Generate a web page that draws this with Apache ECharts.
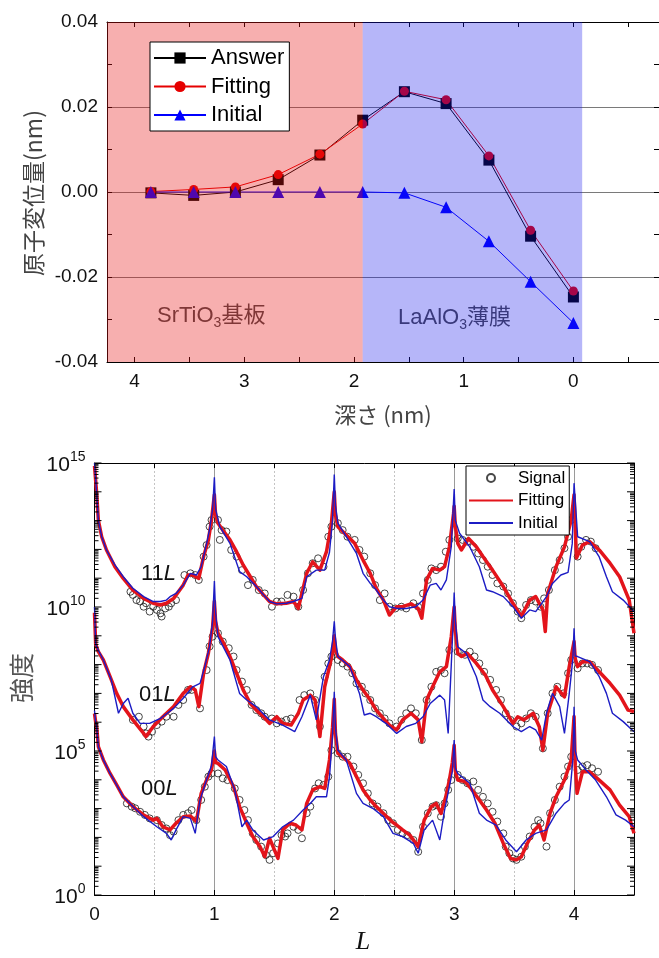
<!DOCTYPE html>
<html><head><meta charset="utf-8">
<script src="https://cdn.jsdelivr.net/npm/echarts@6/dist/echarts.min.js"></script>
<style>html,body{margin:0;padding:0;background:#fff}#c{width:659px;height:958px}</style>
</head><body><div id="c"></div>
<script>
// ---------- Top chart data (depth in nm, displacement in nm) ----------
const depth   = [3.85, 3.46, 3.08, 2.69, 2.31, 1.92, 1.54, 1.16, 0.77, 0.39, 0.0];
const answer  = [-0.0002, -0.0008, 0.0000, 0.0029, 0.0087, 0.0169, 0.0236, 0.0208, 0.0075, -0.0104, -0.0247];
const fitting = [0.0001, 0.0006, 0.0012, 0.0041, 0.0089, 0.0160, 0.0237, 0.0217, 0.0085, -0.0090, -0.0233];
const initial = [0.0000, 0.0000, 0.0000, 0.0000, 0.0000, 0.0000, -0.0002, -0.0036, -0.0116, -0.0211, -0.0308];
const depthMin = -0.78, depthMax = 4.25;
const substrateEdge = 1.92, filmEdge = -0.08;

// ---------- Bottom chart data: [L, log10(intensity)] ----------
const sig11 = [[0.30,10.53],[0.32,10.42],[0.35,10.24],[0.38,10.19],[0.41,10.01],[0.43,10.13],[0.46,9.84],[0.49,10.01],[0.52,9.90],[0.55,9.78],[0.56,9.67],[0.59,9.95],[0.62,10.01],[0.64,10.13],[0.68,10.24],[0.75,11.11],[0.80,11.17],[0.84,11.11],[0.87,10.94],[0.91,11.75],[0.935,12.15],[0.96,12.79],[0.976,13.02],[1.03,13.02],[1.045,12.33],[1.06,12.67],[1.10,12.62],[1.14,11.98],[1.185,11.75],[1.23,11.28],[1.28,10.76],[1.32,10.94],[1.37,10.59],[1.42,10.47],[1.48,10.01],[1.52,10.19],[1.56,10.19],[1.61,10.42],[1.66,10.36],[1.70,10.01],[1.74,10.59],[1.78,11.17],[1.82,11.52],[1.865,11.69],[1.91,11.40],[1.95,12.44],[1.976,12.79],[2.03,12.91],[2.07,12.67],[2.11,12.44],[2.17,12.33],[2.21,11.98],[2.25,11.75],[2.30,11.17],[2.34,10.76],[2.38,10.24],[2.42,10.47],[2.46,10.01],[2.51,9.95],[2.56,10.01],[2.60,9.95],[2.66,10.13],[2.70,10.01],[2.74,10.47],[2.78,10.94],[2.81,11.34],[2.85,11.28],[2.89,11.40],[2.93,11.92],[2.96,12.33],[3.03,12.38],[3.07,12.33],[3.11,12.27],[3.16,12.09],[3.20,11.86],[3.24,11.63],[3.28,11.40],[3.32,11.11],[3.36,10.82],[3.41,10.71],[3.45,10.47],[3.49,10.13],[3.53,9.84],[3.56,9.61],[3.60,10.07],[3.64,10.24],[3.68,10.19],[3.72,10.01],[3.75,10.30],[3.79,10.59],[3.84,11.28],[3.88,11.63],[3.92,12.04],[3.95,12.44],[3.976,13.02],[4.03,11.75],[4.06,12.09],[4.10,12.33],[4.14,12.27],[4.18,12.04]];
const fit11 = [[0.0,14.9],[0.018,13.95],[0.032,13.02],[0.06,12.44],[0.10,11.98],[0.17,11.40],[0.24,10.99],[0.32,10.59],[0.41,10.30],[0.49,10.13],[0.55,10.07],[0.60,10.13],[0.66,10.30],[0.74,10.76],[0.78,11.11],[0.82,11.11],[0.87,10.99],[0.91,11.75],[0.95,12.33],[0.976,13.02],[1.0,13.9],[1.01,13.2],[1.03,12.91],[1.07,12.67],[1.13,12.33],[1.185,11.92],[1.24,11.46],[1.30,11.05],[1.35,10.71],[1.41,10.42],[1.46,10.19],[1.52,10.11],[1.60,10.13],[1.66,10.19],[1.70,9.95],[1.77,11.17],[1.82,11.57],[1.88,11.28],[1.935,11.92],[1.976,12.91],[2.0,14.0],[2.01,13.2],[2.03,12.79],[2.10,12.50],[2.17,12.21],[2.24,11.63],[2.30,11.17],[2.35,10.65],[2.41,10.24],[2.46,9.72],[2.52,10.01],[2.57,10.01],[2.64,10.11],[2.70,9.95],[2.73,9.61],[2.77,10.94],[2.82,11.34],[2.88,11.28],[2.92,11.40],[2.96,12.09],[2.995,13.25],[3.0,13.5],[3.01,12.8],[3.03,12.21],[3.06,11.98],[3.12,12.38],[3.185,12.09],[3.24,11.75],[3.32,11.28],[3.41,10.71],[3.49,10.13],[3.56,9.67],[3.63,10.24],[3.68,10.36],[3.74,9.90],[3.76,9.15],[3.78,10.47],[3.85,11.40],[3.92,12.09],[3.976,13.02],[4.0,13.9],[4.02,11.7],[4.07,12.15],[4.13,12.27],[4.21,11.98],[4.30,11.52],[4.38,11.05],[4.46,10.24],[4.5,9.09]];
const ini11 = [[0.0,15.0],[0.018,13.95],[0.032,13.02],[0.06,12.44],[0.10,11.98],[0.17,11.46],[0.24,11.05],[0.32,10.65],[0.41,10.36],[0.49,10.19],[0.55,10.19],[0.60,10.24],[0.63,10.36],[0.68,10.47],[0.74,10.76],[0.80,11.17],[0.85,11.11],[0.89,11.40],[0.935,12.20],[0.96,12.70],[0.985,13.40],[1.0,14.5],[1.01,13.4],[1.045,12.79],[1.13,12.21],[1.21,11.23],[1.27,11.05],[1.35,10.71],[1.41,10.42],[1.46,10.19],[1.52,10.11],[1.60,10.13],[1.66,10.19],[1.73,10.30],[1.77,11.05],[1.85,11.28],[1.92,11.28],[1.96,11.90],[1.985,13.0],[2.0,14.6],[2.01,13.5],[2.03,12.91],[2.10,12.44],[2.185,11.86],[2.24,11.17],[2.30,10.82],[2.35,10.59],[2.41,10.24],[2.46,10.01],[2.52,9.95],[2.60,9.95],[2.68,10.01],[2.74,10.24],[2.80,10.76],[2.85,10.82],[2.89,10.59],[2.935,10.94],[2.976,12.1],[3.0,14.1],[3.01,13.0],[3.045,12.56],[3.13,12.09],[3.21,11.40],[3.27,10.59],[3.32,10.53],[3.41,10.36],[3.49,10.01],[3.56,9.61],[3.63,9.90],[3.68,9.84],[3.77,10.36],[3.82,10.82],[3.89,11.11],[3.95,11.20],[3.985,12.2],[4.0,14.3],[4.03,12.44],[4.13,12.27],[4.21,11.74],[4.27,11.05],[4.32,10.53],[4.41,10.24],[4.5,9.84]];

const sig01 = [[0.32,6.08],[0.37,6.19],[0.41,5.85],[0.43,5.61],[0.45,5.50],[0.48,5.67],[0.52,5.90],[0.56,6.02],[0.60,6.19],[0.66,6.19],[0.70,6.60],[0.74,6.77],[0.78,7.12],[0.81,7.12],[0.88,6.48],[0.935,7.81],[0.96,8.63],[0.985,8.97],[1.03,9.09],[1.07,8.80],[1.12,8.57],[1.16,8.28],[1.185,7.81],[1.23,7.41],[1.27,7.12],[1.31,6.60],[1.35,6.42],[1.39,6.31],[1.42,6.19],[1.48,6.13],[1.52,5.96],[1.56,6.02],[1.60,6.08],[1.64,6.13],[1.71,6.77],[1.75,6.94],[1.80,7.00],[1.84,6.77],[1.88,5.85],[1.92,7.58],[1.95,8.04],[1.976,8.28],[2.03,8.16],[2.07,8.04],[2.11,7.93],[2.15,7.70],[2.185,7.35],[2.23,7.23],[2.26,7.00],[2.30,6.77],[2.34,6.48],[2.38,6.31],[2.42,6.13],[2.46,5.96],[2.52,5.85],[2.56,6.08],[2.60,6.31],[2.64,6.48],[2.68,6.31],[2.73,5.38],[2.77,6.77],[2.81,7.23],[2.85,7.75],[2.89,7.81],[2.92,7.70],[2.96,8.51],[3.03,8.45],[3.09,8.34],[3.13,8.45],[3.17,8.28],[3.21,8.04],[3.25,7.75],[3.30,7.47],[3.35,7.12],[3.39,6.77],[3.43,6.31],[3.47,6.08],[3.52,5.85],[3.56,5.96],[3.60,6.13],[3.64,6.31],[3.68,6.19],[3.74,5.09],[3.78,6.31],[3.82,7.00],[3.86,7.23],[3.91,7.00],[3.95,7.70],[3.976,8.16],[4.03,7.87],[4.07,8.04],[4.11,8.04],[4.15,7.99],[4.20,7.81]];
const fit01 = [[0.0,9.8],[0.01,8.7],[0.032,8.45],[0.074,8.16],[0.13,7.58],[0.185,7.00],[0.24,6.54],[0.32,6.08],[0.41,5.61],[0.43,5.50],[0.49,5.85],[0.57,6.19],[0.66,6.54],[0.74,7.00],[0.80,7.23],[0.84,7.12],[0.87,6.54],[0.91,7.70],[0.95,8.40],[0.985,9.30],[1.0,10.2],[1.01,9.5],[1.03,9.09],[1.07,8.80],[1.13,8.28],[1.185,7.70],[1.24,7.12],[1.30,6.65],[1.35,6.42],[1.41,6.19],[1.46,5.96],[1.52,6.19],[1.57,5.96],[1.64,5.90],[1.70,6.31],[1.74,6.77],[1.80,6.94],[1.84,6.77],[1.88,5.50],[1.92,7.23],[1.96,7.93],[1.985,8.40],[2.0,9.0],[2.01,8.5],[2.03,8.28],[2.07,8.16],[2.13,7.93],[2.185,7.47],[2.24,7.12],[2.30,6.77],[2.35,6.42],[2.41,6.13],[2.46,5.90],[2.52,5.73],[2.57,6.08],[2.64,6.31],[2.70,6.08],[2.73,5.32],[2.77,6.77],[2.82,7.23],[2.88,7.75],[2.935,7.93],[2.976,8.97],[3.0,10.0],[3.01,9.2],[3.03,8.39],[3.06,8.28],[3.11,8.39],[3.185,8.04],[3.26,7.64],[3.32,7.12],[3.41,6.54],[3.49,5.96],[3.53,6.19],[3.58,6.08],[3.66,6.31],[3.71,5.84],[3.74,5.03],[3.78,6.31],[3.85,7.23],[3.92,6.88],[3.96,7.93],[4.0,8.8],[4.01,8.2],[4.03,7.93],[4.07,8.10],[4.13,8.10],[4.21,7.75],[4.30,7.35],[4.38,6.94],[4.45,6.42],[4.5,6.37]];
const ini01 = [[0.0,10.0],[0.01,8.7],[0.032,8.50],[0.074,8.16],[0.14,7.47],[0.20,6.31],[0.24,6.65],[0.28,6.83],[0.32,6.31],[0.38,5.96],[0.46,5.96],[0.55,6.13],[0.66,6.48],[0.74,6.83],[0.82,7.23],[0.88,7.35],[0.92,7.93],[0.96,8.63],[0.985,9.5],[1.0,10.9],[1.01,9.8],[1.03,8.97],[1.13,8.16],[1.21,7.00],[1.27,6.77],[1.35,6.54],[1.46,6.08],[1.57,5.90],[1.67,5.67],[1.73,6.19],[1.80,6.94],[1.85,6.08],[1.91,7.58],[1.96,8.16],[1.985,8.8],[2.0,9.5],[2.01,8.9],[2.03,8.28],[2.13,7.93],[2.21,7.00],[2.25,6.25],[2.30,6.31],[2.35,6.19],[2.43,5.96],[2.52,5.61],[2.60,5.85],[2.68,5.96],[2.74,6.19],[2.80,6.65],[2.88,6.94],[2.92,6.77],[2.95,5.61],[2.976,8.0],[2.99,9.3],[3.0,10.5],[3.01,9.5],[3.03,8.62],[3.10,8.39],[3.185,7.58],[3.24,6.77],[3.30,6.54],[3.38,6.31],[3.49,5.85],[3.56,5.67],[3.63,5.85],[3.68,5.73],[3.73,5.38],[3.77,6.31],[3.82,7.00],[3.88,6.54],[3.92,5.61],[3.96,7.00],[3.99,8.2],[4.0,9.26],[4.01,8.3],[4.03,8.28],[4.13,8.10],[4.21,7.58],[4.27,7.00],[4.32,6.31],[4.41,6.02],[4.5,5.67]];

const sig00 = [[0.27,3.18],[0.31,3.07],[0.34,3.01],[0.38,2.89],[0.42,2.78],[0.46,2.66],[0.52,2.60],[0.56,2.43],[0.60,2.31],[0.63,2.08],[0.66,2.20],[0.70,2.60],[0.74,2.78],[0.78,2.84],[0.81,2.95],[0.85,2.60],[0.89,3.30],[0.92,3.76],[0.95,4.11],[0.976,4.22],[1.03,4.22],[1.07,4.05],[1.11,3.99],[1.17,3.70],[1.21,3.30],[1.25,2.95],[1.28,2.60],[1.32,2.14],[1.35,1.91],[1.39,1.68],[1.43,1.39],[1.46,1.22],[1.49,1.45],[1.53,1.79],[1.56,2.08],[1.59,2.03],[1.61,2.14],[1.66,2.37],[1.70,2.26],[1.73,1.97],[1.77,2.84],[1.80,3.07],[1.84,3.70],[1.87,3.88],[1.91,3.82],[1.95,4.11],[1.976,5.03],[2.03,4.92],[2.07,4.80],[2.11,4.80],[2.16,4.46],[2.20,4.17],[2.24,3.88],[2.28,3.53],[2.32,3.18],[2.36,3.07],[2.41,2.84],[2.45,2.60],[2.49,2.49],[2.53,2.26],[2.57,2.14],[2.61,2.08],[2.66,1.91],[2.70,1.50],[2.74,2.37],[2.78,2.84],[2.82,3.07],[2.85,3.12],[2.89,2.72],[2.92,3.18],[2.95,3.65],[2.976,3.99],[3.03,4.17],[3.07,3.99],[3.11,3.88],[3.16,3.94],[3.20,3.65],[3.24,3.41],[3.28,3.18],[3.32,2.89],[3.36,2.55],[3.41,2.14],[3.43,1.68],[3.46,1.45],[3.49,1.27],[3.52,1.22],[3.56,1.33],[3.59,1.68],[3.63,2.03],[3.67,2.37],[3.70,2.60],[3.72,2.49],[3.77,1.68],[3.80,2.84],[3.84,3.30],[3.88,3.76],[3.92,4.11],[3.95,4.46],[3.976,4.80],[4.03,4.34],[4.07,4.46],[4.11,4.51],[4.15,4.40],[4.20,4.28]];
const fit00 = [[0.0,6.3],[0.01,6.0],[0.018,5.85],[0.032,5.15],[0.074,4.69],[0.13,4.22],[0.185,3.82],[0.24,3.41],[0.32,3.07],[0.41,2.78],[0.49,2.60],[0.52,2.66],[0.57,2.37],[0.63,2.26],[0.68,2.49],[0.74,2.72],[0.80,2.74],[0.85,2.55],[0.89,3.53],[0.935,4.00],[0.976,4.34],[1.0,5.0],[1.01,4.6],[1.03,4.57],[1.09,4.34],[1.16,3.76],[1.21,3.07],[1.27,2.49],[1.32,2.03],[1.38,1.68],[1.42,1.33],[1.46,1.97],[1.53,1.27],[1.57,2.26],[1.63,2.49],[1.68,2.43],[1.73,2.26],[1.77,3.18],[1.82,3.65],[1.88,3.76],[1.92,3.70],[1.96,4.69],[1.985,5.8],[2.0,6.8],[2.01,5.6],[2.03,4.92],[2.07,4.80],[2.13,4.57],[2.185,4.11],[2.24,3.65],[2.30,3.30],[2.35,3.07],[2.41,2.83],[2.48,2.55],[2.52,2.43],[2.57,2.26],[2.63,2.08],[2.70,1.68],[2.75,2.60],[2.81,3.07],[2.85,3.18],[2.89,2.83],[2.93,3.41],[2.96,3.99],[2.985,4.6],[3.0,5.2],[3.01,4.3],[3.03,3.99],[3.09,3.94],[3.14,3.70],[3.21,3.30],[3.27,2.95],[3.34,2.49],[3.41,1.79],[3.47,1.27],[3.52,1.22],[3.56,1.33],[3.61,1.79],[3.67,2.26],[3.71,2.43],[3.75,1.91],[3.80,2.84],[3.85,3.41],[3.92,3.99],[3.976,4.69],[4.0,6.2],[4.01,4.5],[4.025,3.53],[4.07,4.28],[4.13,4.28],[4.21,3.99],[4.30,3.65],[4.38,3.12],[4.46,2.72],[4.5,2.14]];
const ini00 = [[0.0,6.4],[0.01,6.0],[0.018,5.85],[0.032,5.15],[0.074,4.69],[0.13,4.22],[0.185,3.82],[0.24,3.41],[0.32,3.07],[0.41,2.72],[0.52,2.37],[0.60,2.14],[0.64,1.91],[0.68,2.26],[0.74,2.72],[0.80,2.66],[0.84,2.14],[0.88,3.30],[0.935,4.00],[0.976,4.50],[1.0,5.5],[1.01,4.8],[1.03,4.69],[1.10,4.46],[1.17,3.65],[1.23,2.37],[1.27,2.60],[1.32,2.26],[1.41,1.91],[1.49,2.03],[1.57,2.37],[1.66,2.60],[1.74,2.95],[1.80,3.18],[1.85,3.41],[1.935,3.41],[1.96,4.10],[1.985,5.5],[2.0,7.06],[2.01,5.8],[2.03,5.03],[2.10,4.69],[2.185,3.53],[2.24,3.18],[2.32,3.01],[2.41,2.72],[2.49,2.14],[2.57,2.03],[2.66,1.79],[2.70,1.45],[2.75,2.26],[2.82,2.60],[2.88,1.91],[2.92,2.95],[2.96,3.76],[2.985,4.3],[3.0,5.38],[3.01,4.4],[3.03,4.22],[3.13,3.88],[3.21,2.84],[3.27,2.60],[3.35,2.43],[3.43,1.91],[3.52,1.50],[3.60,1.91],[3.68,2.14],[3.77,2.26],[3.85,2.84],[3.92,3.18],[3.96,3.30],[3.99,4.69],[4.0,6.54],[4.01,5.0],[4.03,4.69],[4.10,4.34],[4.18,3.99],[4.27,3.41],[4.35,2.78],[4.43,2.60],[4.5,2.37]];

const LMax = 4.5;
const groupLabels = ['11', '01', '00'];

// ---------- helpers ----------
const SANS = "'Liberation Sans', Arial, sans-serif";
const JP = "'Noto Sans CJK JP', 'Liberation Sans', sans-serif";
const toPts = arr => arr.map(p => [p[0], Math.pow(10, p[1])]);
const logTicks = [];
for (let k = 0; k < 15; k++) for (let d = 1; d < 10; d++) logTicks.push([0, d * Math.pow(10, k), d === 1 ? 1 : 0]);
logTicks.push([0, 1e15, 1]);

const chart = echarts.init(document.getElementById('c'), null, {renderer: 'canvas'});

const tickStyle = {show: true, inside: true, length: 5, lineStyle: {color: '#000', width: 1}};
const axisLineBlack = {show: true, onZero: false, lineStyle: {color: '#000', width: 1}};

const signalSeries = (data) => ({
  name: 'Signal_b', type: 'scatter', xAxisIndex: 2, yAxisIndex: 2, data: toPts(data),
  symbol: 'circle', symbolSize: 7, z: 2,
  itemStyle: {color: 'rgba(0,0,0,0)', borderColor: '#1a1a1a', borderWidth: 1}
});
const fitSeries = (data) => ({
  name: 'Fitting_b', type: 'line', xAxisIndex: 2, yAxisIndex: 2, data: toPts(data),
  symbol: 'none', z: 3, itemStyle: {color: '#e3141b', opacity: 0},
  lineStyle: {color: '#e3141b', width: 3.5, join: 'round'}
});
const iniSeries = (data) => ({
  name: 'Initial_b', type: 'line', xAxisIndex: 2, yAxisIndex: 2, data: toPts(data),
  symbol: 'none', z: 4, itemStyle: {color: '#1c1cc4', opacity: 0},
  lineStyle: {color: '#1c1cc4', width: 1.4}
});

const option = {
  animation: false,
  backgroundColor: '#fff',
  textStyle: {fontFamily: SANS},
  grid: [
    {left: 107, top: 22, width: 554, height: 340},
    {left: 94.5, top: 463, width: 539.5, height: 432}
  ],
  xAxis: [
    {type: 'value', gridIndex: 0, min: depthMin, max: depthMax, inverse: true, splitNumber: 5,
      axisLine: axisLineBlack, axisTick: tickStyle,
      minorTick: {show: true, splitNumber: 2, length: 5, lineStyle: {color: '#000'}},
      splitLine: {show: false},
      axisLabel: {fontSize: 19, color: '#111', margin: 10, showMinLabel: false, showMaxLabel: false,
        formatter: v => Math.abs(v - Math.round(v)) < 1e-9 ? String(Math.abs(Math.round(v))) : ''}},
    {type: 'value', gridIndex: 0, position: 'top', min: depthMin, max: depthMax, inverse: true, splitNumber: 5,
      axisLine: axisLineBlack, axisTick: tickStyle,
      minorTick: {show: true, splitNumber: 2, length: 5, lineStyle: {color: '#000'}},
      splitLine: {show: false}, axisLabel: {show: false}},
    {type: 'value', gridIndex: 1, min: 0, max: LMax, interval: 0.5,
      axisLine: axisLineBlack, axisTick: tickStyle,
      splitLine: {show: true, lineStyle: {color: '#c4c4c4', type: [2, 2], width: 1}},
      axisLabel: {fontSize: 19, color: '#111', margin: 10,
        formatter: v => Math.abs(v - Math.round(v)) < 1e-9 ? String(Math.round(v)) : ''}},
    {type: 'value', gridIndex: 1, position: 'top', min: 0, max: LMax, interval: 0.5,
      axisLine: axisLineBlack, axisTick: tickStyle, splitLine: {show: false}, axisLabel: {show: false}},
    {type: 'value', gridIndex: 1, min: 0, max: LMax, interval: 1,
      axisLine: {show: false, onZero: false}, axisTick: {show: false}, axisLabel: {show: false},
      splitLine: {show: true, lineStyle: {color: '#9a9a9a', width: 1}}}
  ],
  yAxis: [
    {type: 'value', gridIndex: 0, min: -0.04, max: 0.04, interval: 0.02,
      axisLine: axisLineBlack, axisTick: tickStyle,
      minorTick: {show: true, splitNumber: 2, length: 5, lineStyle: {color: '#000'}},
      splitLine: {show: true, lineStyle: {color: '#7a7a7a', width: 1}},
      axisLabel: {fontSize: 19, color: '#111', margin: 9, formatter: v => v.toFixed(2)}},
    {type: 'value', gridIndex: 0, position: 'right', min: -0.04, max: 0.04, interval: 0.02,
      axisLine: axisLineBlack, axisTick: tickStyle,
      minorTick: {show: true, splitNumber: 2, length: 5, lineStyle: {color: '#000'}},
      splitLine: {show: false}, axisLabel: {show: false}},
    {type: 'log', gridIndex: 1, logBase: 10, min: 1, max: 1e15, interval: 5,
      axisLine: axisLineBlack, axisTick: {show: false}, splitLine: {show: false},
      axisLabel: {margin: 9, color: '#111',
        formatter: v => '{b|10}{s|' + Math.round(Math.log10(v)) + '}',
        rich: {b: {fontSize: 21, color: '#111', fontFamily: SANS, lineHeight: 26, verticalAlign: 'bottom'},
               s: {fontSize: 14, color: '#111', fontFamily: SANS, lineHeight: 26, verticalAlign: 'top'}}}},
    {type: 'log', gridIndex: 1, position: 'right', logBase: 10, min: 1, max: 1e15, interval: 5,
      axisLine: axisLineBlack, axisTick: {show: false}, splitLine: {show: false}, axisLabel: {show: false}}
  ],
  legend: [
    {data: ['Answer', 'Fitting', 'Initial'], orient: 'vertical', left: 150, top: 42,
      itemWidth: 52, itemHeight: 14, itemGap: 6.5, padding: [5, 5, 5, 3],
      backgroundColor: '#fff', borderColor: '#000', borderWidth: 1, z: 10,
      textStyle: {fontSize: 22, color: '#000', fontFamily: SANS, lineHeight: 22}},
    {data: ['Signal_b', 'Fitting_b', 'Initial_b'], orient: 'vertical', left: 466, top: 466,
      itemWidth: 44, itemHeight: 8, itemGap: 4.5, padding: [3, 4, 3, 2],
      backgroundColor: '#fff', borderColor: '#000', borderWidth: 1, z: 10,
      formatter: n => n.replace('_b', ''),
      textStyle: {fontSize: 17, color: '#000', fontFamily: SANS, lineHeight: 18}}
  ],
  graphic: [
    {type: 'text', z: 1, style: {text: 'SrTiO{s|3}基板', x: 157, y: 316, verticalAlign: 'middle',
      font: "22px 'Liberation Sans', 'Noto Sans CJK JP', sans-serif", fill: '#4a4a4a', lineHeight: 28,
      rich: {s: {fontSize: 14, fill: '#4a4a4a', verticalAlign: 'bottom', lineHeight: 28}}}},
    {type: 'text', z: 1, style: {text: 'LaAlO{s|3}薄膜', x: 398, y: 318, verticalAlign: 'middle',
      font: "22px 'Liberation Sans', 'Noto Sans CJK JP', sans-serif", fill: '#4a4a4a', lineHeight: 28,
      rich: {s: {fontSize: 14, fill: '#4a4a4a', verticalAlign: 'bottom', lineHeight: 28}}}},
    {type: 'text', style: {text: '深さ (nm)', x: 383, y: 415, align: 'center', verticalAlign: 'middle',
      font: "22px " + JP, fill: '#444'}},
    {type: 'text', rotation: Math.PI / 2, x: 33, y: 193, style: {text: '原子変位量(nm)', x: 0, y: 0,
      align: 'center', verticalAlign: 'middle', font: "23px " + JP, fill: '#444'}},
    {type: 'text', rotation: Math.PI / 2, x: 21, y: 678, style: {text: '強度', x: 0, y: 0,
      align: 'center', verticalAlign: 'middle', font: "25px " + JP, fill: '#555'}},
    {type: 'text', style: {text: 'L', x: 363, y: 942, align: 'center', verticalAlign: 'middle',
      font: "italic 26px 'Liberation Serif', 'Times New Roman', serif", fill: '#111'}},
    {type: 'text', z: 1, style: {text: groupLabels[0] + '{i|L}', x: 141, y: 574, verticalAlign: 'middle',
      font: "22px " + SANS, fill: '#111', rich: {i: {fontStyle: 'italic', fontSize: 22, fill: '#111'}}}},
    {type: 'text', z: 1, style: {text: groupLabels[1] + '{i|L}', x: 139, y: 695, verticalAlign: 'middle',
      font: "22px " + SANS, fill: '#111', rich: {i: {fontStyle: 'italic', fontSize: 22, fill: '#111'}}}},
    {type: 'text', z: 1, style: {text: groupLabels[2] + '{i|L}', x: 141, y: 789, verticalAlign: 'middle',
      font: "22px " + SANS, fill: '#111', rich: {i: {fontStyle: 'italic', fontSize: 22, fill: '#111'}}}}
  ],
  series: [
    {name: 'Answer', type: 'line', xAxisIndex: 0, yAxisIndex: 0, z: 2,
      data: depth.map((d, i) => [d, answer[i]]), symbol: 'rect', symbolSize: 11,
      itemStyle: {color: '#000'}, lineStyle: {color: '#000', width: 1}},
    {name: 'Fitting', type: 'line', xAxisIndex: 0, yAxisIndex: 0, z: 2,
      data: depth.map((d, i) => [d, fitting[i]]), symbol: 'circle', symbolSize: 9,
      itemStyle: {color: '#e60000'}, lineStyle: {color: '#e60000', width: 1}},
    {name: 'Initial', type: 'line', xAxisIndex: 0, yAxisIndex: 0, z: 2,
      data: depth.map((d, i) => [d, initial[i]]), symbol: 'triangle', symbolSize: 12,
      itemStyle: {color: '#0000ff'}, lineStyle: {color: '#0000ff', width: 1}},
    {name: 'regions', type: 'line', xAxisIndex: 0, yAxisIndex: 0, data: [[0, 0]], symbol: 'none',
      lineStyle: {opacity: 0}, silent: true,
      markArea: {silent: true, z: 3, data: [
        [{xAxis: depthMax, itemStyle: {color: 'rgba(232,20,20,0.34)'}}, {xAxis: substrateEdge}],
        [{xAxis: substrateEdge, itemStyle: {color: 'rgba(20,20,235,0.31)'}}, {xAxis: filmEdge}]
      ]}},
    signalSeries(sig11), signalSeries(sig01), signalSeries(sig00),
    fitSeries(fit11), fitSeries(fit01), fitSeries(fit00),
    iniSeries(ini11), iniSeries(ini01), iniSeries(ini00),
    {name: 'logTicks', type: 'custom', xAxisIndex: 2, yAxisIndex: 2, z: 6, silent: true,
      dimensions: ['x', 'y', 'major'], encode: {x: 0, y: 1}, data: logTicks,
      renderItem: (params, api) => {
        const v = api.value(1), major = api.value(2);
        const l = api.coord([0, v]), r = api.coord([LMax, v]);
        const len = major ? 7 : 4;
        return {type: 'group', children: [
          {type: 'line', shape: {x1: l[0], y1: l[1], x2: l[0] + len, y2: l[1]}, style: {stroke: '#000', lineWidth: 1}},
          {type: 'line', shape: {x1: r[0], y1: r[1], x2: r[0] - len, y2: r[1]}, style: {stroke: '#000', lineWidth: 1}}
        ]};
      }}
  ]
};
chart.setOption(option);
</script>
</body></html>
